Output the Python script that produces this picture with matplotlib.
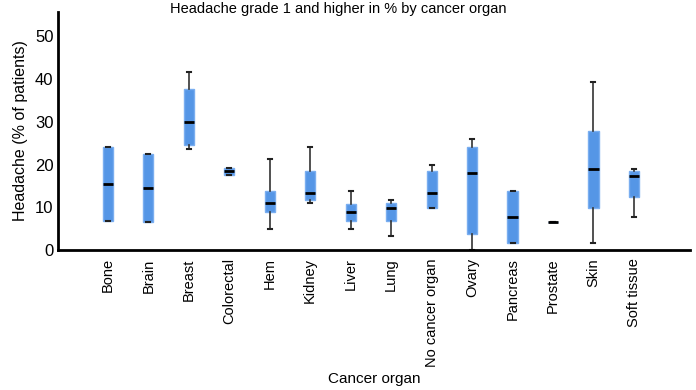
import matplotlib.pyplot as plt

plt.rcParams['font.family'] = ['Liberation Sans', 'DejaVu Sans']

organs = ["Bone", "Brain", "Breast", "Colorectal", "Hem", "Kidney", "Liver", "Lung",
          "No cancer organ", "Ovary", "Pancreas", "Prostate", "Skin", "Soft tissue"]
whislo = [6.8, 6.5, 23.7, 17.6, 4.8, 10.9, 4.8, 3.2, 9.8, 0.0, 1.7, 6.5, 1.7, 7.7]
q1 = [6.8, 6.5, 24.6, 17.6, 8.9, 11.6, 6.9, 6.8, 9.8, 3.7, 1.7, 6.5, 9.9, 12.3]
med = [15.4, 14.5, 29.9, 18.4, 10.9, 13.4, 8.8, 9.8, 13.4, 18.0, 7.7, 6.5, 19.0, 17.4]
q3 = [24.0, 22.4, 37.7, 19.3, 13.7, 18.4, 10.8, 10.9, 18.4, 24.0, 13.8, 6.5, 27.9, 18.4]
whishi = [24.0, 22.4, 41.6, 19.3, 21.3, 24.0, 13.8, 11.8, 19.9, 26.1, 13.8, 6.5, 39.3, 18.9]

stats = []
for i in range(len(organs)):
    stats.append({"label": organs[i], "whislo": whislo[i], "q1": q1[i], "med": med[i],
                  "q3": q3[i], "whishi": whishi[i], "fliers": []})

fig = plt.figure(figsize=(6.96, 3.9), dpi=100)
ax = fig.add_axes([0.083, 0.359, 0.908, 0.61])

ax.bxp(stats, positions=range(1, len(organs) + 1), widths=0.25, patch_artist=True,
       boxprops=dict(facecolor="#5596e6", edgecolor="#7aaef0", linewidth=1),
       medianprops=dict(color="black", linewidth=2),
       whiskerprops=dict(color="#333333", linewidth=1.2),
       capprops=dict(color="#222222", linewidth=1.5), capwidths=0.1)

ax.set_xlim(-0.24, 15.38)
ax.set_ylim(0, 55.7)
ax.set_yticks([0, 10, 20, 30, 40, 50])
ax.tick_params(axis="y", length=0, labelsize=12, pad=3)
ax.tick_params(axis="x", length=0, labelsize=10.5, labelrotation=90, pad=6)
for s in ["top", "right"]:
    ax.spines[s].set_visible(False)
for s in ["left", "bottom"]:
    ax.spines[s].set_linewidth(2)

ax.set_ylabel("Headache (% of patients)", fontsize=11.5, labelpad=5)
ax.set_xlabel("Cancer organ", fontsize=11, labelpad=4)
fig.text(0.486, 0.978, "Headache grade 1 and higher in % by cancer organ",
         ha="center", va="center", fontsize=10.5)

fig.savefig("out.png", dpi=100)
